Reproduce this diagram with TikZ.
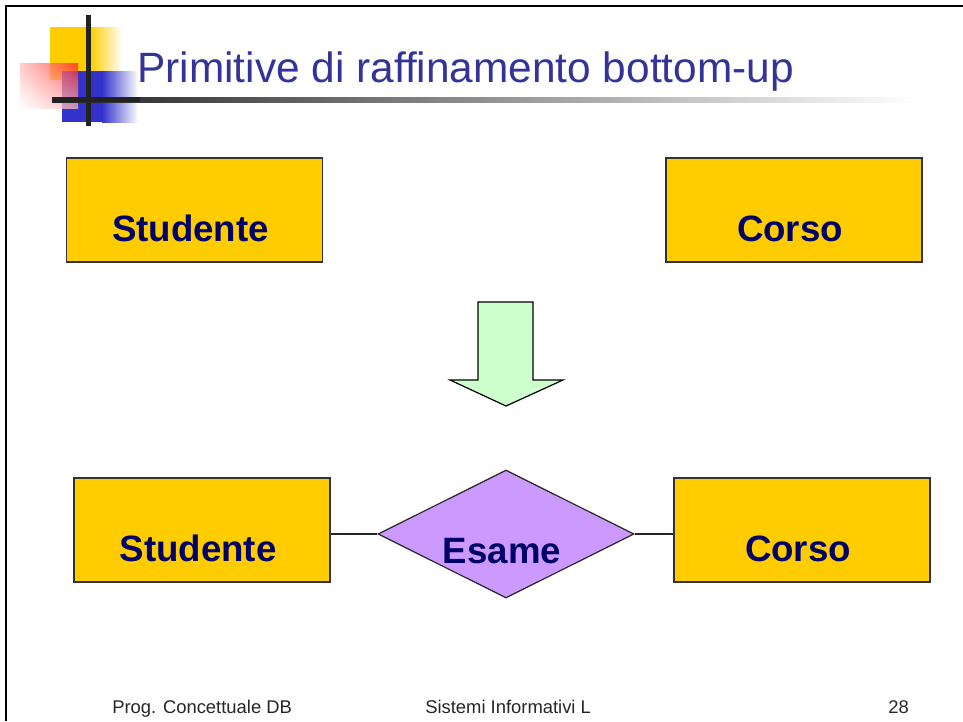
\documentclass[tikz,border=0pt]{standalone}
\usepackage{fontspec}
\setmainfont{Liberation Sans}
\usetikzlibrary{shapes.geometric,shadings}
\definecolor{boxfill}{HTML}{FFCC00}
\definecolor{navytext}{HTML}{000066}
\definecolor{relfill}{HTML}{CC99FF}
\definecolor{arrowfill}{HTML}{CCFFCC}
\definecolor{titlecol}{HTML}{333399}
\definecolor{logoyellow}{HTML}{FFCC00}
\definecolor{logoblue}{HTML}{3333CC}
\definecolor{logored}{HTML}{FF2020}
\definecolor{bardark}{HTML}{222222}
\newcommand{\entleftshift}[1]{#1\hspace*{6pt}}
\begin{document}
\begin{tikzpicture}[x=0.75pt,y=-0.75pt,
  entity/.style={rectangle, draw=black!80, line width=1.1pt, fill=boxfill,
    minimum width=192pt, minimum height=78pt, inner sep=0pt,
    text height=62.6pt, text depth=15.4pt,
    font=\fontsize{27.5}{30}\selectfont\bfseries, text=navytext},
  relation/.style={diamond, draw=black!85, line width=0.9pt, fill=relfill,
    minimum width=192pt, minimum height=96pt, inner sep=0pt},
  reltext/.style={anchor=base, inner sep=0pt,
    font=\fontsize{27.5}{30}\selectfont\bfseries, text=navytext},
  link/.style={draw=black!85, line width=0.9pt},
  footer/.style={anchor=base west, inner sep=0pt,
    font=\fontsize{13.8}{16}\selectfont, text=black!85},
  bigarrow/.style={draw=black, line width=0.9pt, fill=arrowfill, line join=miter}
]
\useasboundingbox (0,0) rectangle (963,721);
\fill[white] (0,0) rectangle (963,721);
% frame
\draw[black, line width=1.6pt] (6,721) -- (6,6) -- (963,6);
% logo
\fill[logoyellow] (50,27) rectangle (90,80);
\shade[left color=logoyellow, right color=white] (90,27) rectangle (122,80);
\fill[logoblue] (62,71) rectangle (102,122);
\shade[left color=logoblue, right color=white] (102,71) rectangle (138,122);
\shade[upper right=logored, upper left=logored!30, lower right=logored!35, lower left=white, opacity=0.75] (20,63) rectangle (78,108);
\fill[bardark] (86,15) rectangle (91,126);
\shade[left color=bardark, middle color=black!38, right color=white] (52,97) rectangle (915,102);
\fill[bardark] (52,97) rectangle (140,102);
% title
\node[anchor=base west, inner sep=0pt, text=titlecol, font=\fontsize{31.8}{36}\selectfont] (title) at (137,82) {Primitive di raffinamento bottom-up};
% top entities
\node[entity] (s1) at (194.5,210) {\entleftshift{Studente}};
\node[entity] (c1) at (794,210) {\entleftshift{Corso}};
% big arrow
\draw[bigarrow] (478,302) -- (533,302) -- (533,380) -- (563,380) -- (506,406) -- (450,380) -- (478,380) -- cycle;
% bottom diagram
\node[entity] (s2) at (202,530) {\entleftshift{Studente}};
\node[entity] (c2) at (802,530) {\entleftshift{Corso}};
\node[relation] (e) at (506,534) {};
\node[reltext] (etxt) at (502,563) {Esame};
\draw[link] (s2.east |- e.west) -- (e.west);
\draw[link] (e.east) -- (c2.west |- e.east);
% footer
\node[footer] (f1) at (112,713) {Prog. Concettuale DB};
\node[footer] (f2) at (425,713) {Sistemi Informativi L};
\node[footer] (f3) at (888,713) {28};
\end{tikzpicture}
\end{document}
